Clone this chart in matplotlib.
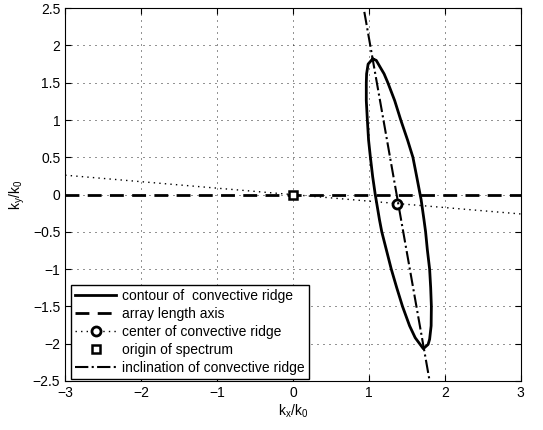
import numpy as np
import matplotlib
matplotlib.use('Agg')
import matplotlib.pyplot as plt

plt.rcParams['font.family'] = ['Liberation Sans', 'DejaVu Sans']
plt.rcParams['mathtext.default'] = 'regular'
plt.rcParams['axes.unicode_minus'] = True

# contour of convective ridge (closed curve)
contour_x = [1.05, 0.99, 0.97, 0.966, 0.966, 0.98, 0.996, 1.02, 1.05, 1.084,
             1.14, 1.17, 1.23, 1.295, 1.367, 1.443, 1.536, 1.61, 1.69, 1.717,
             1.78, 1.80, 1.82, 1.823, 1.814, 1.80, 1.77, 1.747, 1.726, 1.688,
             1.675, 1.63, 1.58, 1.51, 1.42, 1.34, 1.25, 1.20, 1.148, 1.097, 1.05]
contour_y = [1.82, 1.75, 1.62, 1.50, 1.26, 1.00, 0.73, 0.50, 0.24, 0.00,
             -0.34, -0.50, -0.74, -1.00, -1.25, -1.50, -1.76, -1.92, -2.03, -2.067,
             -2.01, -1.94, -1.76, -1.50, -1.25, -1.00, -0.74, -0.50, -0.34, -0.067,
             0.00, 0.24, 0.50, 0.73, 1.00, 1.26, 1.50, 1.62, 1.71, 1.80, 1.82]

# array length axis
axis_x = [-3, 3]
axis_y = [0, 0]

# line through origin and ridge center
center_x = [-3, 1.37, 3]
center_y = [0.26, -0.12, -0.26]

# origin of spectrum
origin_x = [0]
origin_y = [0]

# inclination of convective ridge
incl_x = [0.94, 1.80]
incl_y = [2.45, -2.5]

fig = plt.figure(figsize=(5.43, 4.30), dpi=100)
ax = fig.add_axes([0.12, 0.114, 0.839, 0.867])

ax.plot(contour_x, contour_y, 'k-', lw=2, label='contour of  convective ridge')
ax.plot(axis_x, axis_y, 'k--', lw=2, dashes=(5, 3), label='array length axis')
ax.plot(center_x, center_y, 'k', ls=(0, (1, 3)), lw=1, marker='o', markevery=[1],
        ms=6.5, mew=2, mfc='white', mec='k', label='center of convective ridge')
ax.plot(origin_x, origin_y, 'ks', ms=6, mew=1.8, mfc='white', mec='k',
        ls='none', label='origin of spectrum')
ax.plot(incl_x, incl_y, 'k-.', lw=1.5, label='inclination of convective ridge')

ax.set_xlim(-3, 3)
ax.set_ylim(-2.5, 2.5)
ax.set_xticks(np.arange(-3, 4, 1))
ax.set_yticks(np.arange(-2.5, 2.6, 0.5))
ax.set_yticklabels(['\u22122.5', '\u22122', '\u22121.5', '\u22121', '\u22120.5',
                    '0', '0.5', '1', '1.5', '2', '2.5'])
ax.tick_params(direction='in', top=True, right=True, labelsize=10, length=4)
ax.grid(True, ls=(0, (1.2, 6)), color='k', lw=0.6)
ax.set_xlabel(r'k$_x$/k$_0$', fontsize=10, labelpad=2)
ax.set_ylabel(r'k$_y$/k$_0$', fontsize=10, labelpad=4)

leg = ax.legend(loc='lower left', bbox_to_anchor=(0.012, 0.006), borderaxespad=0,
                fontsize=10, handlelength=3, labelspacing=0.28, borderpad=0.3,
                handletextpad=0.4, fancybox=False, framealpha=1)
leg.get_frame().set_edgecolor('k')
leg.get_frame().set_linewidth(1)

fig.savefig('out.png', dpi=100)
